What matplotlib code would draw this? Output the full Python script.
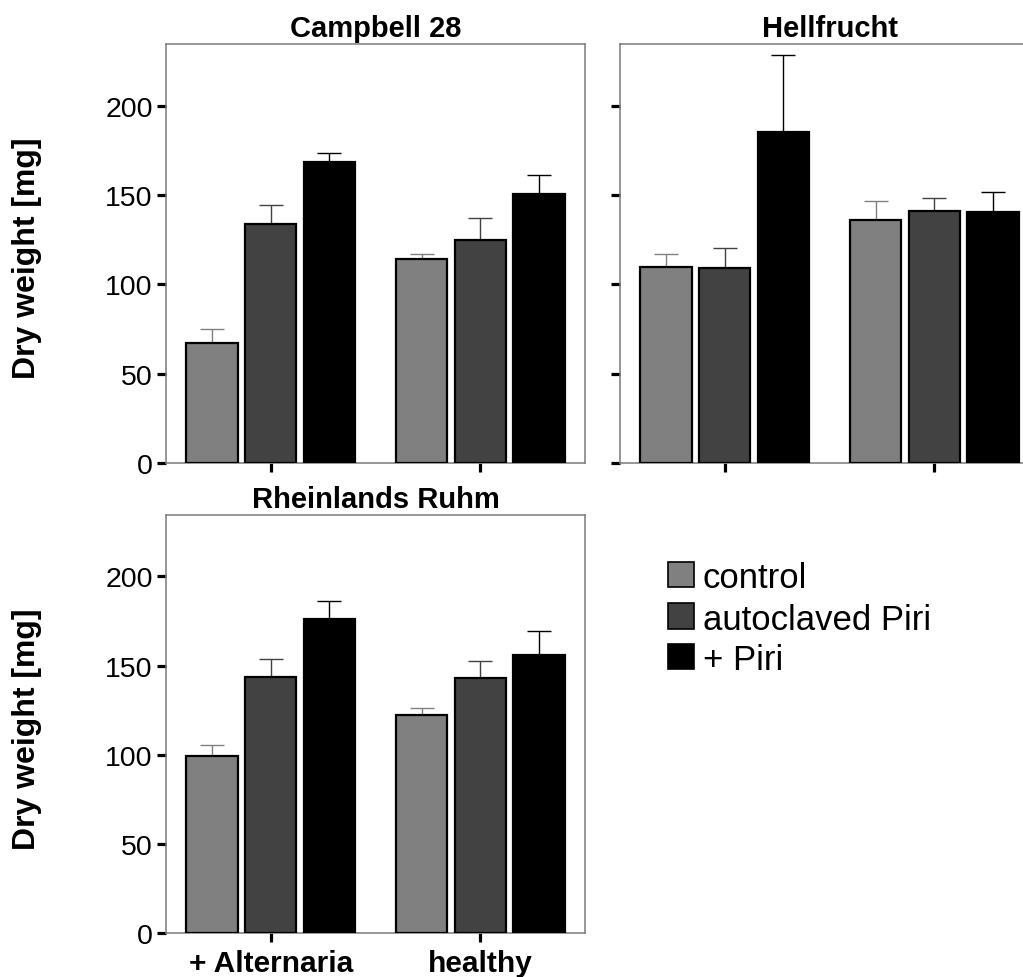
import matplotlib
matplotlib.use("Agg")
import matplotlib.pyplot as plt
from matplotlib.patches import Rectangle
import numpy as np

plt.rcParams['font.family'] = ['Liberation Sans', 'DejaVu Sans']

conditions = ["+ Alternaria", "healthy"]
treatments = ["control", "autoclaved Piri", "+ Piri"]
colors = ["#808080", "#424242", "#000000"]

cultivars = ["Campbell 28", "Hellfrucht", "Rheinlands Ruhm"]

# means[treatment] = [+Alternaria, healthy]
campbell_mean = {"control": [67.2, 114.2], "autoclaved Piri": [134.0, 124.6], "+ Piri": [168.7, 150.7]}
campbell_err = {"control": [8.0, 3.0], "autoclaved Piri": [10.6, 12.3], "+ Piri": [5.0, 10.3]}

hellfrucht_mean = {"control": [109.9, 136.0], "autoclaved Piri": [109.0, 141.2], "+ Piri": [185.3, 140.5]}
hellfrucht_err = {"control": [7.3, 10.5], "autoclaved Piri": [11.3, 7.3], "+ Piri": [42.9, 11.2]}

rheinlands_mean = {"control": [99.3, 122.2], "autoclaved Piri": [143.4, 143.2], "+ Piri": [175.9, 155.9]}
rheinlands_err = {"control": [6.1, 4.2], "autoclaved Piri": [10.2, 9.5], "+ Piri": [10.1, 13.4]}

yticks = [0, 50, 100, 150, 200]

W, H = 1023, 978
fig = plt.figure(figsize=(W / 100, H / 100), dpi=100)

def px_axes(left, top, right, bottom):
    return fig.add_axes([left / W, 1 - bottom / H, (right - left) / W, (bottom - top) / H])

ax1 = px_axes(166, 45, 585, 464)
ax2 = px_axes(620, 45, 1039, 464)
ax3 = px_axes(166, 516, 585, 934)

offsets = [-0.28, 0.0, 0.28]
width = 0.245
x = np.arange(len(conditions))

def draw(ax, means, errs, title, show_ylabels, show_xlabels):
    for i, t in enumerate(treatments):
        m = means[t]
        e = errs[t]
        ax.bar(x + offsets[i], m, width, color=colors[i], edgecolor="black", linewidth=1.6, zorder=3)
        ax.errorbar(x + offsets[i], m, yerr=[np.zeros(len(m)), e], fmt="none",
                    ecolor=colors[i], elinewidth=1.0, capsize=8.5, capthick=1.0, zorder=2)
    ax.set_xlim(-0.5, 1.5)
    ax.set_ylim(0, 234.5)
    ax.set_yticks(yticks)
    ax.set_xticks(x)
    for s in ax.spines.values():
        s.set_color("#7a7a7a")
        s.set_linewidth(1.1)
    ax.tick_params(axis="both", direction="out", length=6.5, width=2.3, color="black",
                   labelsize=20.5, pad=3)
    if show_ylabels:
        ax.set_yticklabels([str(v) for v in yticks])
        ax.set_ylabel("Dry weight [mg]", fontsize=23, fontweight="bold")
        ax.yaxis.set_label_coords(-0.296, 0.49)
    else:
        ax.set_yticklabels([])
    if show_xlabels:
        ax.set_xticklabels(conditions, fontsize=21.5, fontweight="bold")
        ax.tick_params(axis="x", pad=5)
    else:
        ax.set_xticklabels([])
    ax.set_title(title, fontsize=21, fontweight="bold", pad=6)

draw(ax1, campbell_mean, campbell_err, cultivars[0], True, False)
draw(ax2, hellfrucht_mean, hellfrucht_err, cultivars[1], False, False)
draw(ax3, rheinlands_mean, rheinlands_err, cultivars[2], True, True)

# legend drawn in figure pixel coordinates
leg_rows = [575.5, 616.7, 657.5]
for t, c, yc in zip(treatments, colors, leg_rows):
    fig.patches.append(Rectangle((668 / W, 1 - (yc + 12.8) / H), 25.5 / W, 25.6 / H,
                                 transform=fig.transFigure, facecolor=c,
                                 edgecolor="black", linewidth=1.2))
    fig.text(703 / W, 1 - yc / H, t, fontsize=25, va="center_baseline", ha="left")

fig.savefig("out.png", dpi=100)
